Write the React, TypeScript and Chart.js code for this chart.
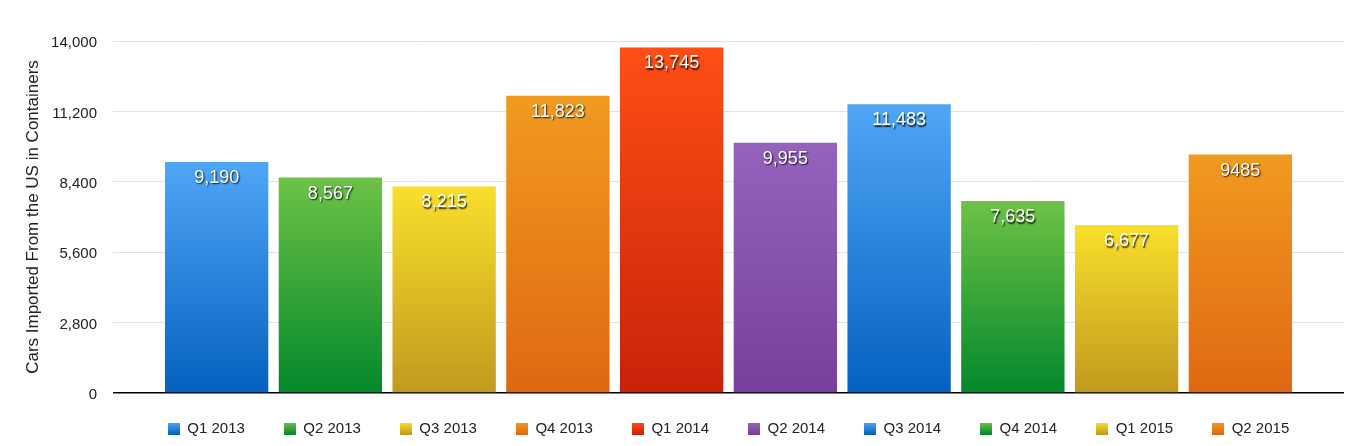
import React, { useEffect, useRef } from 'react';
import { Chart, registerables } from 'chart.js';

Chart.register(...registerables);

const categories = ['Q1 2013', 'Q2 2013', 'Q3 2013', 'Q4 2013', 'Q1 2014', 'Q2 2014', 'Q3 2014', 'Q4 2014', 'Q1 2015', 'Q2 2015'];
const values = [9190, 8567, 8215, 11823, 13745, 9955, 11483, 7635, 6677, 9485];
const valueLabels = ['9,190', '8,567', '8,215', '11,823', '13,745', '9,955', '11,483', '7,635', '6,677', '9485'];
const topColors = ['#50a6f6', '#6dc246', '#f9df2b', '#f19a20', '#ff4e15', '#9463bd', '#50a6f6', '#6dc246', '#f9df2b', '#f19a20'];
const bottomColors = ['#0560bf', '#03882c', '#c09a1f', '#df6812', '#c7230a', '#78409a', '#0560bf', '#03882c', '#c09a1f', '#df6812'];
const yMin = 0;
const yMax = 14000;
const yStep = 2800;
const axisTitle = 'Cars Imported From the US in Containers';

const FONT = "'Liberation Sans', Arial, Helvetica, sans-serif";

function makeLegendImage(i: number): HTMLCanvasElement {
  const c = document.createElement('canvas');
  c.width = 12;
  c.height = 12;
  const g = c.getContext('2d')!;
  const grad = g.createLinearGradient(0, 0, 0, 12);
  grad.addColorStop(0, topColors[i]);
  grad.addColorStop(1, bottomColors[i]);
  g.fillStyle = grad;
  g.fillRect(0, 0, 12, 12);
  return c;
}

const valueLabelPlugin = {
  id: 'valueLabels',
  afterDatasetsDraw(chart: any) {
    const ctx = chart.ctx;
    ctx.save();
    ctx.font = `18px ${FONT}`;
    ctx.textAlign = 'center';
    ctx.textBaseline = 'alphabetic';
    ctx.fillStyle = '#ffffff';
    ctx.shadowColor = 'rgba(0,0,0,0.85)';
    ctx.shadowOffsetX = 1;
    ctx.shadowOffsetY = 1.5;
    ctx.shadowBlur = 1.5;
    chart.data.datasets.forEach((_ds: any, i: number) => {
      const meta = chart.getDatasetMeta(i);
      const el = meta.data[0];
      if (!el) return;
      ctx.fillText(valueLabels[i], el.x, el.y + 21);
    });
    ctx.restore();
  },
};

const legendShiftPlugin = {
  id: 'legendShift',
  afterLayout(chart: any) {
    const l = chart.legend;
    if (l) {
      l.top -= 11;
      l.bottom = chart.height;
    }
  },
};

export default function App() {
  const ref = useRef<HTMLCanvasElement | null>(null);

  useEffect(() => {
    if (!ref.current) return;
    const legendImages = categories.map((_c, i) => makeLegendImage(i));
    const datasets = categories.map((cat, i) => ({
      label: cat,
      data: [values[i]],
      backgroundColor: (c: any) => {
        const chart = c.chart;
        const area = chart.chartArea;
        if (!area || !chart.scales.y) return topColors[i];
        const y = chart.scales.y;
        const top = y.getPixelForValue(values[i]);
        const bottom = y.getPixelForValue(0);
        const g = chart.ctx.createLinearGradient(0, top, 0, bottom);
        g.addColorStop(0, topColors[i]);
        g.addColorStop(1, bottomColors[i]);
        return g;
      },
      borderWidth: 0,
      categoryPercentage: 0.924,
      barPercentage: 0.9085,
    }));

    const chart = new Chart(ref.current, {
      type: 'bar',
      data: { labels: [''], datasets },
      options: {
        animation: false,
        responsive: true,
        maintainAspectRatio: false,
        events: [],
        layout: { padding: { top: 33, right: 8, bottom: 0, left: 0 } },
        font: { family: FONT },
        scales: {
          x: { display: false },
          y: {
            min: yMin,
            max: yMax,
            border: { display: false },
            grid: {
              drawTicks: false,
              color: (c: any) => (c.tick && c.tick.value === 0 ? '#000000' : '#e2e2e2'),
              lineWidth: (c: any) => (c.tick && c.tick.value === 0 ? 1.5 : 1),
            },
            ticks: {
              stepSize: yStep,
              padding: 16,
              labelOffset: 2,
              color: '#222222',
              font: { family: FONT, size: 15 },
              callback: (v: any) => Number(v).toLocaleString('en-US'),
            },
            title: {
              display: true,
              text: axisTitle,
              color: '#222222',
              font: { family: FONT, size: 17 },
              padding: { top: 15, bottom: 0 },
            },
            afterFit: (scale: any) => {
              scale.width = 105;
            },
          },
        },
        plugins: {
          tooltip: { enabled: false },
          legend: {
            position: 'bottom',
            fullSize: false,
            maxHeight: 45,
            labels: {
              usePointStyle: true,
              boxWidth: 12,
              boxHeight: 12,
              padding: 39,
              color: '#222222',
              font: { family: FONT, size: 15 },
              generateLabels: () =>
                categories.map((cat, i) => ({
                  text: cat,
                  fillStyle: topColors[i],
                  strokeStyle: 'rgba(0,0,0,0)',
                  lineWidth: 0,
                  pointStyle: legendImages[i],
                  hidden: false,
                  datasetIndex: i,
                  fontColor: '#222222',
                })),
            },
          },
        },
      } as any,
      plugins: [valueLabelPlugin, legendShiftPlugin],
    });
    return () => chart.destroy();
  }, []);

  return (
    <div style={{ position: 'relative', height: 430 }}>
      <canvas ref={ref} />
    </div>
  );
}
